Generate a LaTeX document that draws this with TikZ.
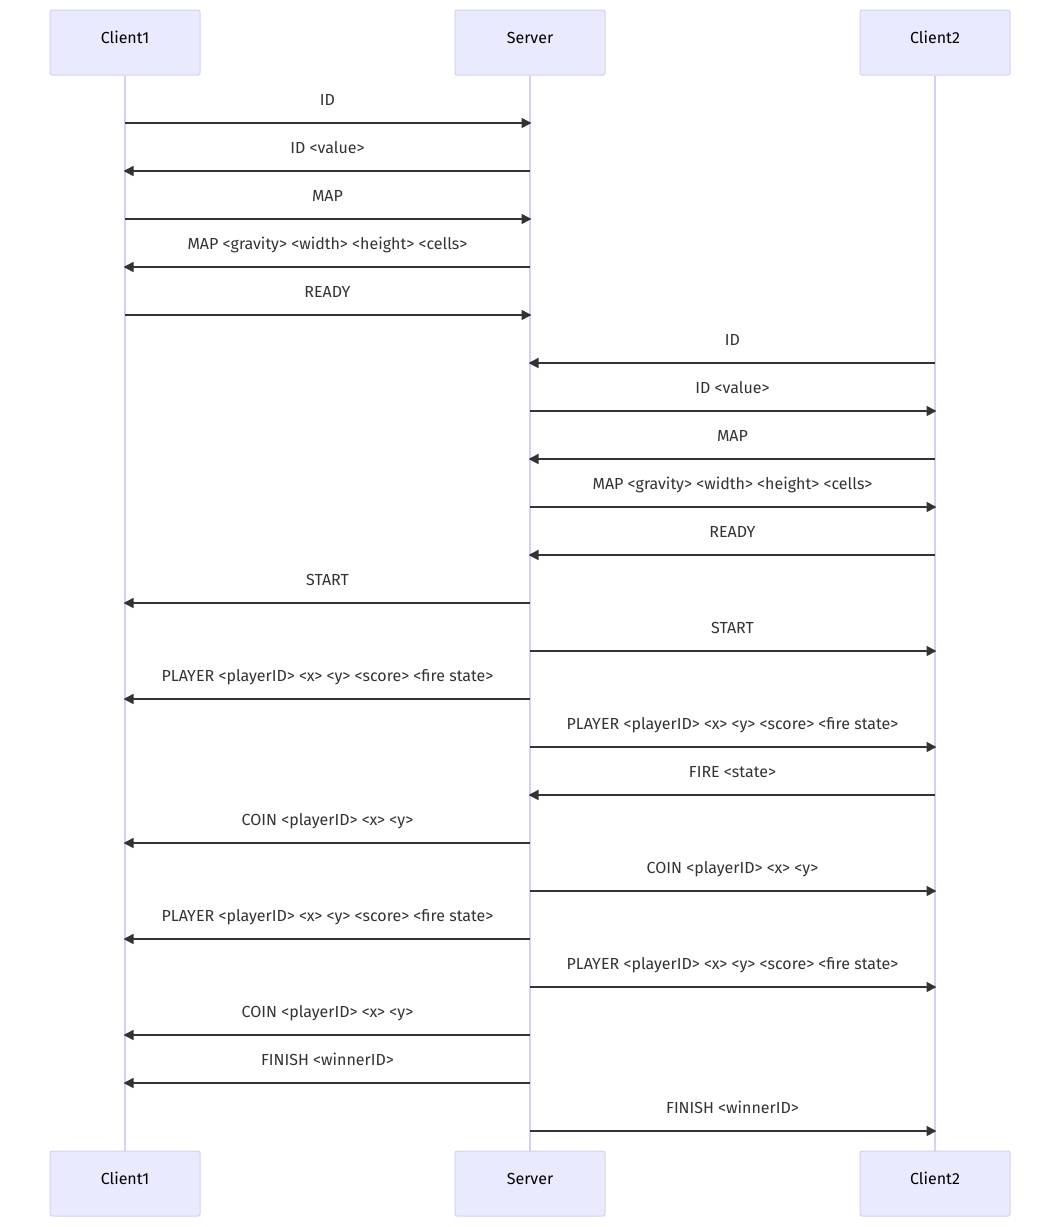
\documentclass[tikz,border=0pt]{standalone}
\usepackage{fontspec}
\setmainfont{Fira Sans}
\usetikzlibrary{arrows.meta}
\definecolor{actfill}{HTML}{EAEAFF}
\definecolor{actline}{HTML}{D5D0F5}
\definecolor{msg}{HTML}{333333}
\tikzset{
  actor/.style={draw=actline, fill=actfill, rounded corners=2pt, line width=1pt,
    minimum width=150pt, minimum height=65pt, inner sep=0pt},
  atext/.style={anchor=base, inner sep=0pt, font=\fontsize{16}{19}\selectfont, text=black},
  life/.style={draw=actline, line width=1.5pt},
  msgline/.style={draw=msg, line width=1.5pt, shorten >=-1.5pt, -{Triangle[length=10pt,width=10pt]}},
  lbl/.style={font=\fontsize{16}{19}\selectfont, text=msg, anchor=base, inner sep=0pt, midway, yshift=17.5pt}
}
\begin{document}
\begin{tikzpicture}[x=1pt,y=-1pt]
\useasboundingbox (0,0) rectangle (1060,1227);
\node[actor] (c1t) at (125,42.5) {};
\node[actor] (svt) at (530,42.5) {};
\node[actor] (c2t) at (935,42.5) {};
\node[actor] (c1b) at (125,1183.5) {};
\node[actor] (svb) at (530,1183.5) {};
\node[actor] (c2b) at (935,1183.5) {};
\node[atext] (c1tl) at (125,43) {Client1};
\node[atext] (svtl) at (530,43) {Server};
\node[atext] (c2tl) at (935,43) {Client2};
\node[atext] (c1bl) at (125,1184) {Client1};
\node[atext] (svbl) at (530,1184) {Server};
\node[atext] (c2bl) at (935,1184) {Client2};
\draw[life] (c1t) -- (c1b);
\draw[life] (svt) -- (svb);
\draw[life] (c2t) -- (c2b);
\foreach \i/\f/\t/\txt in {
 0/125/530/ID,
 1/530/125/ID <value>,
 2/125/530/MAP,
 3/530/125/MAP <gravity> <width> <height> <cells>,
 4/125/530/READY,
 5/935/530/ID,
 6/530/935/ID <value>,
 7/935/530/MAP,
 8/530/935/MAP <gravity> <width> <height> <cells>,
 9/935/530/READY,
 10/530/125/START,
 11/530/935/START,
 12/530/125/PLAYER <playerID> <x> <y> <score> <fire state>,
 13/530/935/PLAYER <playerID> <x> <y> <score> <fire state>,
 14/935/530/FIRE <state>,
 15/530/125/COIN <playerID> <x> <y>,
 16/530/935/COIN <playerID> <x> <y>,
 17/530/125/PLAYER <playerID> <x> <y> <score> <fire state>,
 18/530/935/PLAYER <playerID> <x> <y> <score> <fire state>,
 19/530/125/COIN <playerID> <x> <y>,
 20/530/125/FINISH <winnerID>,
 21/530/935/FINISH <winnerID>}
{
  \coordinate (m\i a) at (\f,123+48*\i);
  \coordinate (m\i b) at (\t,123+48*\i);
  \draw[msgline] (m\i a) -- (m\i b) node[lbl] {\txt};
}
\end{tikzpicture}
\end{document}
